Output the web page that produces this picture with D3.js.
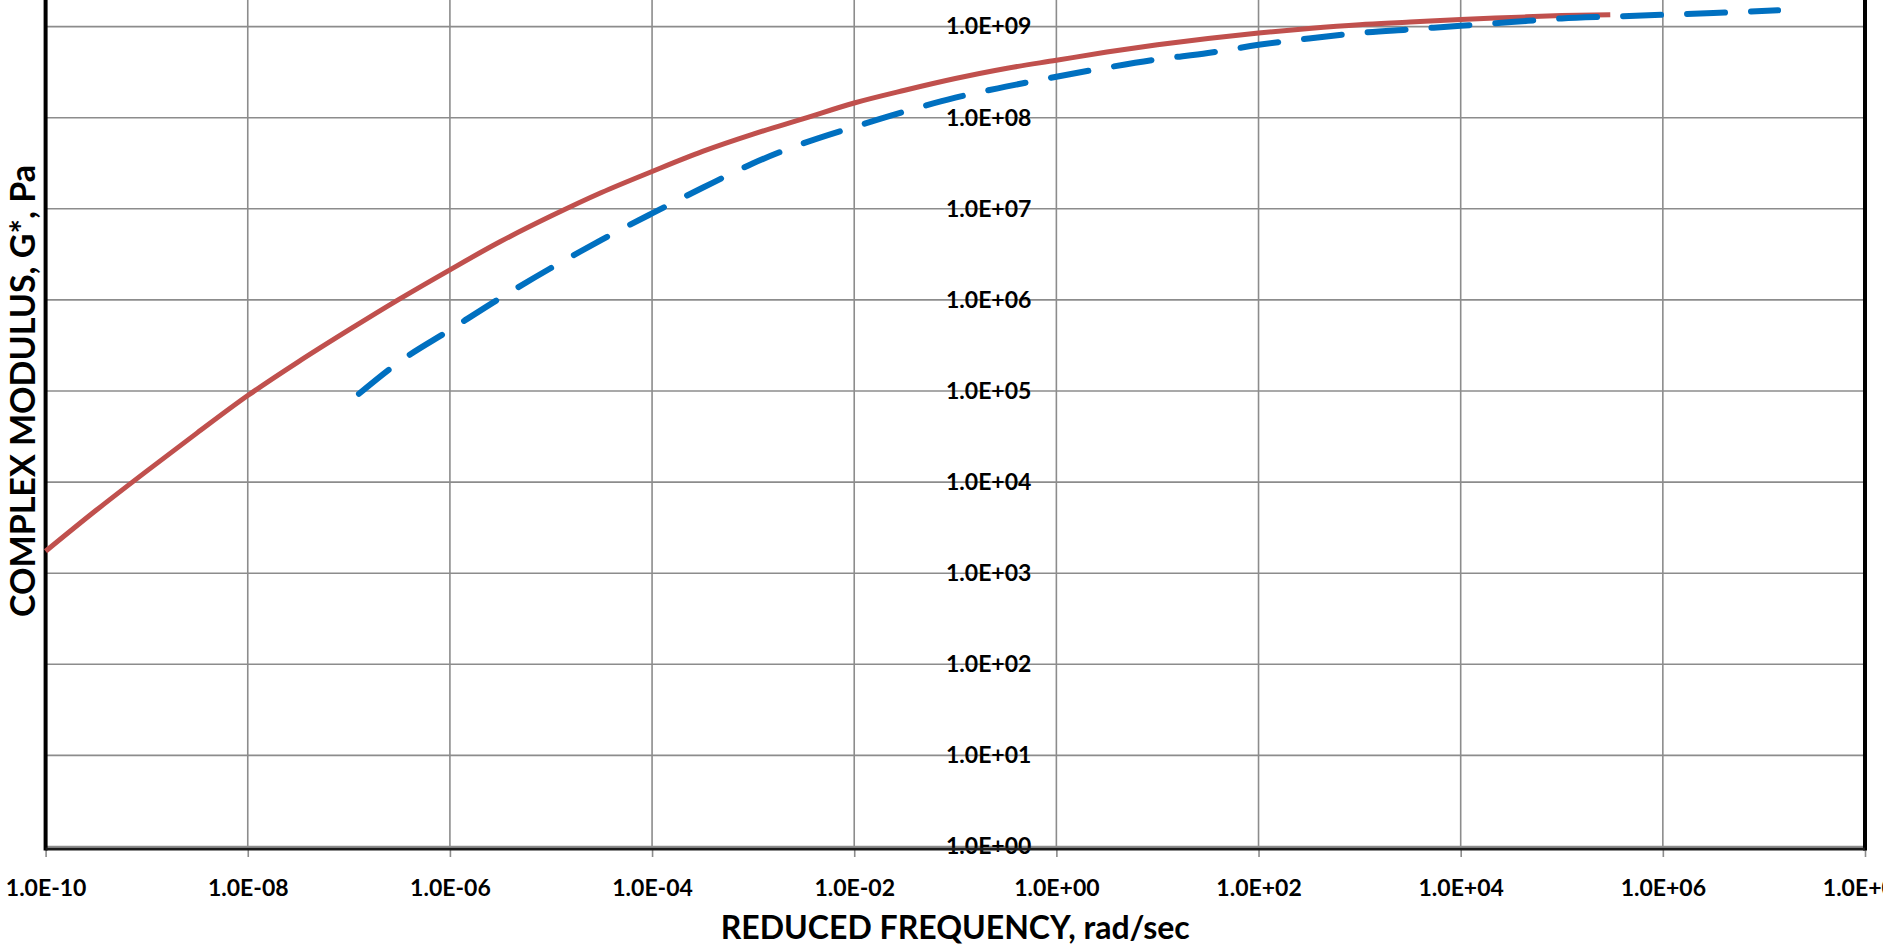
<!DOCTYPE html>
<html>
<head>
<meta charset="utf-8">
<script src="https://cdn.jsdelivr.net/npm/d3@7"></script>
<style>
	html, body { margin: 0; padding: 0; background: #ffffff; overflow: hidden; }
	text { font-family: Lato, "Open Sans", sans-serif; font-weight: bold; fill: #000000; }
</style>
</head>
<body>
<div></div>
<script>
const width = 1883;
const height = 945;

// reduced frequency (rad/sec) and |G*| (Pa)
const red_freq = [1e-10, 3.16e-10, 1e-9, 3.16e-9, 1e-8, 3.16e-8, 1e-7, 3.16e-7, 1e-6, 3.16e-6,
	1e-5, 3.16e-5, 1e-4, 3.16e-4, 1e-3, 3.16e-3, 1e-2, 3.16e-2, 0.1, 0.316,
	1, 3.16, 10, 31.6, 100, 316, 1000, 3160, 1e4, 3.16e4, 1e5, 3.02e5];
const red_g = [1740, 4900, 1.32e4, 3.47e4, 8.91e4, 2.09e5, 4.68e5, 1.02e6, 2.14e6, 4.37e6,
	8.32e6, 1.51e7, 2.57e7, 4.27e7, 6.61e7, 9.77e7, 1.45e8, 2.0e8, 2.69e8, 3.47e8,
	4.27e8, 5.25e8, 6.31e8, 7.41e8, 8.51e8, 9.55e8, 1.05e9, 1.12e9, 1.20e9, 1.26e9, 1.32e9, 1.35e9];

const blue_freq = [1.26e-7, 3.16e-7, 1e-6, 3.16e-6, 1e-5, 3.16e-5, 1e-4, 3.16e-4, 1e-3, 3.16e-3,
	1e-2, 3.16e-2, 0.1, 0.316, 1, 3.16, 10, 31.6, 100, 316,
	1000, 3160, 1e4, 3.16e4, 1e5, 3.16e5, 1e6, 3.16e6, 1.38e7];
const blue_g = [9.33e4, 2.09e5, 4.68e5, 1.05e6, 2.24e6, 4.57e6, 8.91e6, 1.70e7, 3.16e7, 5.25e7,
	7.94e7, 1.17e8, 1.66e8, 2.19e8, 2.82e8, 3.55e8, 4.37e8, 5.13e8, 6.31e8, 7.41e8,
	8.51e8, 9.33e8, 1.02e9, 1.12e9, 1.23e9, 1.29e9, 1.35e9, 1.41e9, 1.51e9];

const x_ticks = [1e-10, 1e-8, 1e-6, 1e-4, 1e-2, 1, 1e2, 1e4, 1e6, 1e8];
const y_ticks = [1, 1e1, 1e2, 1e3, 1e4, 1e5, 1e6, 1e7, 1e8, 1e9];

const x_title = "REDUCED FREQUENCY, rad/sec";
const y_title = "COMPLEX MODULUS, G*, Pa";

var x = d3.scaleLog().domain([1e-10, 1e8]).range([45.6, 1865]);
var y = d3.scaleLog().domain([1, 1e10]).range([846.5, 846.5 - 10 * 91.1]);

function sci(v) {
	var e = Math.round(Math.log10(v));
	return "1.0E" + (e < 0 ? "-" : "+") + (Math.abs(e) < 10 ? "0" : "") + Math.abs(e);
}

var svg = d3.select("div")
	.append("svg")
	.attr("width", width)
	.attr("height", height);

// grid
svg.append("g")
	.selectAll("line")
	.data(x_ticks.slice(1, -1))
	.enter()
	.append("line")
	.attr("x1", d => x(d))
	.attr("x2", d => x(d))
	.attr("y1", y(1e10))
	.attr("y2", y(1))
	.style("stroke", "#8c8c8c")
	.style("stroke-width", 1.6);

svg.append("g")
	.selectAll("line")
	.data(y_ticks)
	.enter()
	.append("line")
	.attr("x1", x(1e-10))
	.attr("x2", x(1e8))
	.attr("y1", d => y(d))
	.attr("y2", d => y(d))
	.style("stroke", "#8c8c8c")
	.style("stroke-width", 1.6);

// x axis ticks + labels
var x_axis = svg.append("g")
	.attr("transform", "translate(0," + 849 + ")")
	.call(d3.axisBottom(x).tickValues(x_ticks).tickSize(8).tickFormat(sci));
x_axis.select(".domain").remove();
x_axis.selectAll(".tick line").style("stroke", "#8c8c8c").style("stroke-width", 1.6);
x_axis.selectAll(".tick text")
	.attr("y", 47)
	.attr("dy", 0)
	.style("font-size", "23px")
	.style("font-family", "Lato, sans-serif")
	.style("font-weight", "bold")
	.attr("fill", "#000");

// y labels sit next to the 1.0E+00 gridline
var y_axis = svg.append("g")
	.attr("transform", "translate(" + x(1) + ",0)")
	.call(d3.axisLeft(y).tickValues(y_ticks).tickSize(0).tickPadding(25).tickFormat(sci));
y_axis.select(".domain").remove();
y_axis.selectAll(".tick text")
	.style("font-size", "23px")
	.style("font-family", "Lato, sans-serif")
	.style("font-weight", "bold")
	.attr("fill", "#000");

// black frame lines
svg.append("line")
	.attr("x1", x(1e-10)).attr("x2", x(1e-10))
	.attr("y1", 0).attr("y2", 850.5)
	.style("stroke", "#000").style("stroke-width", 4);
svg.append("line")
	.attr("x1", x(1e8)).attr("x2", x(1e8))
	.attr("y1", 0).attr("y2", 850.5)
	.style("stroke", "#000").style("stroke-width", 4);
svg.append("line")
	.attr("x1", x(1e-10)).attr("x2", x(1e8))
	.attr("y1", 849).attr("y2", 849)
	.style("stroke", "#1a1a1a").style("stroke-width", 3);

// series
var line = d3.line()
	.x(d => x(d[0]))
	.y(d => y(d[1]))
	.curve(d3.curveMonotoneX);

svg.append("path")
	.datum(red_freq.map((f, i) => [f, red_g[i]]))
	.attr("d", line)
	.style("fill", "none")
	.style("stroke", "#c0504d")
	.style("stroke-width", 5)
	.style("stroke-linejoin", "round");

svg.append("path")
	.datum(blue_freq.map((f, i) => [f, blue_g[i]]))
	.attr("d", line)
	.style("fill", "none")
	.style("stroke", "#0070c0")
	.style("stroke-width", 6)
	.style("stroke-linecap", "round")
	.style("stroke-dasharray", "38,26");

// axis titles
svg.append("text")
	.attr("x", (x(1e-10) + x(1e8)) / 2)
	.attr("y", 939)
	.attr("text-anchor", "middle")
	.style("font-size", "32px")
	.text(x_title);

svg.append("text")
	.attr("transform", "translate(35," + ((y(1) + y(1e10)) / 2) + ") rotate(-90)")
	.attr("text-anchor", "middle")
	.style("font-size", "34px")
	.text(y_title);
</script>
</body>
</html>
